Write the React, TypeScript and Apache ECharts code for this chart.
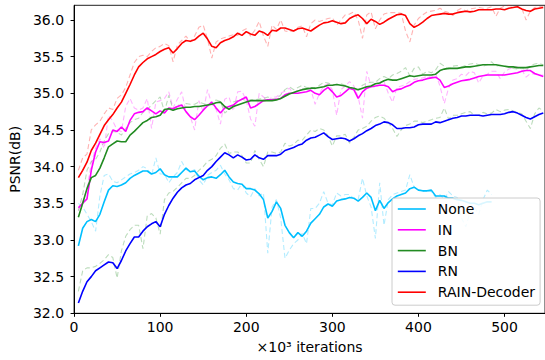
import React, { useEffect, useRef } from "react";
import * as echarts from "echarts";

// x positions (×10^3 iterations)
const ITERATIONS = [
  5, 10, 15, 20, 25, 30, 35, 40, 45, 50,
  55, 60, 65, 70, 75, 80, 85, 90, 95, 100,
  105, 110, 115, 120, 125, 130, 135, 140, 145, 150,
  155, 160, 165, 170, 175, 180, 185, 190, 195, 200,
  205, 210, 215, 220, 225, 230, 235, 240, 245, 250,
  255, 260, 265, 270, 275, 280, 285, 290, 295, 300,
  305, 310, 315, 320, 325, 330, 335, 340, 345, 350,
  355, 360, 365, 370, 375, 380, 385, 390, 395, 400,
  405, 410, 415, 420, 425, 430, 435, 440, 445, 450,
  455, 460, 465, 470, 475, 480, 485, 490, 495, 500,
  505, 510, 515, 520, 525, 530, 535, 540, 545,
];

const X_TICKS = [0, 100, 200, 300, 400, 500];
const Y_TICKS = [32.0, 32.5, 33.0, 33.5, 34.0, 34.5, 35.0, 35.5, 36.0];
const SERIES_NAMES = ["None", "IN", "BN", "RN", "RAIN-Decoder"];

// smoothed curves (solid)
const NONE_SMOOTH = [
  32.92, 33.16, 33.25, 33.28, 33.25, 33.35, 33.52, 33.68, 33.74, 33.73,
  33.75, 33.78, 33.84, 33.88, 33.91, 33.94, 33.94, 33.90, 33.92, 33.97,
  33.89, 33.86, 33.86, 33.86, 33.92, 33.98, 33.93, 33.94, 33.87, 33.82,
  33.85, 33.86, 33.84, 33.89, 33.95, 33.86, 33.79, 33.77, 33.76, 33.70,
  33.70, 33.68, 33.63, 33.55, 33.30, 33.39, 33.52, 33.43, 33.20, 33.10,
  33.03, 33.10, 33.05, 33.12, 33.23, 33.29, 33.35, 33.45, 33.49, 33.46,
  33.53, 33.55, 33.56, 33.58, 33.57, 33.53, 33.58, 33.64, 33.58, 33.40,
  33.54, 33.43, 33.51, 33.56, 33.60, 33.62, 33.64, 33.70, 33.72, 33.68,
  33.67, 33.67, 33.68, 33.60, 33.60, 33.60, 33.57, 33.57, 33.55, 33.54,
  33.52, 33.50, 33.50, 33.48, 33.50, 33.52, 33.52,
];
const IN_SMOOTH = [
  33.44, 33.50, 33.56, 33.95, 34.20, 34.34, 34.33, 34.35, 34.50, 34.48,
  34.54, 34.48, 34.63, 34.72, 34.74, 34.75, 34.80, 34.76, 34.72, 34.76,
  34.73, 34.80, 34.79, 34.82, 34.84, 34.75, 34.68, 34.64, 34.70, 34.77,
  34.83, 34.88, 34.80, 34.73, 34.80, 34.82, 34.84, 34.89, 34.92, 34.95,
  34.80, 34.82, 34.86, 34.90, 34.91, 34.91, 34.92, 34.93, 34.98, 35.00,
  35.00, 35.00, 35.01, 35.02, 35.04, 35.00, 34.98, 35.04, 35.08, 35.02,
  34.95, 34.97, 35.02, 35.07, 35.05, 34.93, 35.02, 35.07, 35.09, 35.10,
  35.11, 35.11, 35.09, 35.02, 35.05, 35.06, 35.09, 35.11, 35.15, 35.17,
  35.18, 35.20, 35.21, 35.22, 35.18, 35.08, 35.10, 35.13, 35.15, 35.17,
  35.18, 35.19, 35.21, 35.23, 35.24, 35.25, 35.25, 35.25, 35.25, 35.25,
  35.26, 35.27, 35.28, 35.30, 35.31, 35.31, 35.27, 35.25, 35.23,
];
const BN_SMOOTH = [
  33.31, 33.50, 33.70, 33.85, 33.88, 33.98, 34.12, 34.27, 34.31, 34.35,
  34.34, 34.34, 34.43, 34.48, 34.54, 34.60, 34.63, 34.67, 34.68, 34.70,
  34.78, 34.79, 34.77, 34.79, 34.80, 34.81, 34.81, 34.82, 34.82, 34.83,
  34.84, 34.85, 34.87, 34.88, 34.82, 34.78, 34.82, 34.84, 34.86, 34.88,
  34.90, 34.90, 34.90, 34.90, 34.90, 34.90, 34.91, 34.93, 34.96, 34.99,
  35.01, 35.03, 35.05, 35.06, 35.07, 35.07, 35.08, 35.09, 35.11, 35.11,
  35.12, 35.11, 35.10, 35.08, 35.07, 35.05, 35.07, 35.09, 35.10, 35.13,
  35.14, 35.17, 35.19, 35.18, 35.18, 35.20, 35.22, 35.24, 35.23, 35.24,
  35.25, 35.25, 35.25, 35.26, 35.31, 35.33, 35.34, 35.34, 35.34, 35.35,
  35.36, 35.36, 35.37, 35.38, 35.39, 35.39, 35.39, 35.39, 35.38, 35.37,
  35.36, 35.36, 35.35, 35.35, 35.35, 35.36, 35.37, 35.38, 35.38,
];
const RN_SMOOTH = [
  32.14, 32.30, 32.43, 32.50, 32.58, 32.62, 32.66, 32.70, 32.69, 32.61,
  32.72, 32.85, 32.95, 33.04, 33.04, 33.12, 33.18, 33.22, 33.25, 33.18,
  33.35, 33.47, 33.57, 33.65, 33.71, 33.75, 33.77, 33.82, 33.85, 33.88,
  33.95, 34.00, 34.07, 34.13, 34.19, 34.16, 34.12, 34.16, 34.13, 34.09,
  34.10, 34.16, 34.12, 34.10, 34.15, 34.15, 34.15, 34.17, 34.22, 34.24,
  34.26, 34.29, 34.31, 34.36, 34.39, 34.40, 34.43, 34.46, 34.41, 34.37,
  34.38, 34.39, 34.38, 34.35, 34.38, 34.42, 34.45, 34.49, 34.52, 34.56,
  34.58, 34.61, 34.60, 34.57, 34.52, 34.52, 34.53, 34.53, 34.54, 34.57,
  34.58, 34.58, 34.58, 34.61, 34.60, 34.62, 34.64, 34.66, 34.67, 34.69,
  34.69, 34.70, 34.70, 34.70, 34.69, 34.70, 34.71, 34.71, 34.71, 34.72,
  34.74, 34.75, 34.73, 34.70, 34.67, 34.65, 34.68, 34.71, 34.73,
];
const RAIN_SMOOTH = [
  33.85, 33.95, 34.06, 34.22, 34.32, 34.44, 34.56, 34.64, 34.71, 34.80,
  34.88, 35.00, 35.12, 35.25, 35.36, 35.42, 35.47, 35.50, 35.53, 35.57,
  35.60, 35.62, 35.55, 35.61, 35.68, 35.72, 35.71, 35.73, 35.78, 35.82,
  35.74, 35.64, 35.62, 35.69, 35.72, 35.74, 35.77, 35.82, 35.79, 35.84,
  35.81, 35.79, 35.85, 35.83, 35.79, 35.86, 35.85, 35.89, 35.89, 35.87,
  35.85, 35.88, 35.89, 35.87, 35.85, 35.89, 35.93, 35.96, 35.97, 35.99,
  35.97, 35.95, 35.96, 36.02, 36.05, 36.07, 36.02, 35.95, 36.01, 35.98,
  35.94, 35.97, 36.01, 36.04, 36.07, 36.08, 36.06, 35.95, 35.90, 35.93,
  35.97, 36.02, 36.06, 36.07, 36.08, 36.09, 36.08, 36.08, 36.10, 36.11,
  36.12, 36.11, 36.12, 36.14, 36.14, 36.14, 36.14, 36.15, 36.15, 36.14,
  36.16, 36.17, 36.18, 36.15, 36.13, 36.12, 36.15, 36.16, 36.17,
];

// raw curves (faint dashed)
const NONE_RAW = [
  33.50, 33.45, 33.35, 33.25, 33.12, 33.60, 33.88, 33.90, 33.80, 33.78,
  33.82, 33.86, 33.90, 33.92, 33.95, 34.00, 33.97, 33.88, 34.12, 33.90,
  33.90, 33.78, 33.86, 33.92, 34.07, 33.96, 33.93, 33.96, 33.82, 33.75,
  33.88, 33.92, 33.95, 34.02, 33.90, 33.82, 33.70, 33.68, 33.77, 33.64,
  33.59, 33.70, 33.60, 33.64, 32.82, 33.45, 33.55, 33.30, 32.75, 32.86,
  32.95, 33.00, 33.09, 32.95, 33.43, 33.43, 33.50, 33.66, 33.50, 33.48,
  33.64, 33.60, 33.62, 33.62, 33.56, 33.55, 33.84, 33.60, 33.45, 33.02,
  33.78, 33.20, 33.55, 33.62, 33.64, 33.66, 33.68, 33.89, 33.72, 33.68,
  33.67, 33.66, 33.66, 33.58, 33.62, 33.55, 33.66, 33.60, 33.58, 33.30,
  33.18, 33.38, 33.45, 33.35, 33.55, 33.68, 33.62,
];
const IN_RAW = [
  33.40, 33.52, 33.70, 34.05, 34.25, 34.38, 34.25, 34.70, 34.62, 34.50,
  34.48, 34.82, 34.93, 34.80, 34.77, 34.80, 34.93, 34.52, 34.88, 34.90,
  34.93, 35.02, 34.80, 34.92, 35.02, 34.75, 34.68, 34.50, 34.90, 34.75,
  35.05, 34.85, 34.78, 34.58, 34.92, 34.95, 34.76, 35.02, 35.03, 34.90,
  34.65, 34.55, 35.00, 34.95, 34.90, 34.95, 34.95, 35.00, 35.03, 35.07,
  35.00, 35.05, 35.05, 35.07, 35.05, 34.85, 35.00, 35.10, 35.13, 35.05,
  34.70, 35.05, 35.10, 35.16, 35.10, 34.95, 34.66, 35.30, 35.10, 35.08,
  35.13, 35.16, 35.00, 34.88, 35.08, 35.10, 35.12, 35.16, 35.19, 35.20,
  35.21, 35.23, 35.22, 35.27, 35.10, 34.86, 35.07, 35.18, 35.20, 35.26,
  35.24, 35.30, 35.28, 35.14, 35.24, 35.26, 35.30, 35.30, 35.20, 35.29,
  35.33, 35.35, 35.36, 35.32, 35.22, 35.27, 35.26, 35.25, 35.25,
];
const BN_RAW = [
  33.40, 33.62, 33.95, 34.07, 34.10, 34.20, 34.35, 34.45, 34.48, 34.47,
  34.43, 34.52, 34.60, 34.64, 34.66, 34.74, 34.78, 34.84, 34.90, 34.95,
  34.75, 34.97, 34.78, 34.84, 34.83, 34.86, 34.85, 34.85, 34.88, 34.86,
  34.84, 34.87, 34.91, 34.89, 34.73, 34.78, 34.88, 34.90, 34.92, 34.90,
  34.91, 34.91, 34.92, 34.93, 34.95, 34.92, 34.92, 34.98, 35.05, 35.09,
  35.05, 35.08, 35.11, 35.08, 35.08, 35.06, 35.11, 35.15, 35.14, 35.12,
  35.12, 35.13, 35.11, 35.07, 35.04, 35.05, 35.11, 35.14, 35.15, 35.15,
  35.20, 35.23, 35.20, 35.25, 35.27, 35.30, 35.35, 35.24, 35.34, 35.36,
  35.26, 35.30, 35.28, 35.32, 35.41, 35.37, 35.33, 35.37, 35.38, 35.36,
  35.38, 35.40, 35.41, 35.39, 35.37, 35.39, 35.43, 35.37, 35.38, 35.37,
  35.36, 35.34, 35.33, 35.35, 35.31, 35.38, 35.40, 35.41, 35.39,
];
const RN_RAW = [
  32.30, 32.58, 32.62, 32.62, 32.64, 32.68, 32.73, 32.80, 32.76, 32.48,
  32.85, 33.05, 33.14, 33.20, 33.20, 32.88, 33.33, 33.36, 33.30, 33.08,
  33.55, 33.64, 33.66, 33.72, 33.78, 33.84, 33.84, 33.88, 33.95, 34.00,
  34.07, 34.10, 34.15, 34.25, 34.31, 34.18, 34.20, 34.20, 34.15, 34.05,
  34.05, 34.22, 34.10, 34.00, 34.20, 34.20, 34.18, 34.20, 34.32, 34.28,
  34.30, 34.36, 34.36, 34.43, 34.50, 34.48, 34.52, 34.50, 34.42, 34.28,
  34.42, 34.42, 34.44, 34.32, 34.40, 34.50, 34.52, 34.55, 34.62, 34.67,
  34.69, 34.66, 34.60, 34.52, 34.41, 34.50, 34.56, 34.58, 34.62, 34.62,
  34.60, 34.62, 34.64, 34.66, 34.67, 34.80, 34.65, 34.70, 34.70, 34.72,
  34.74, 34.75, 34.70, 34.70, 34.74, 34.72, 34.73, 34.78, 34.75, 34.77,
  34.78, 34.76, 34.74, 34.72, 34.62, 34.52, 34.72, 34.80, 34.76,
];
const RAIN_RAW = [
  33.95, 34.12, 34.17, 34.50, 34.57, 34.62, 34.72, 34.80, 34.78, 34.93,
  34.98, 35.08, 35.25, 35.42, 35.50, 35.52, 35.50, 35.57, 35.62, 35.64,
  35.68, 35.65, 35.43, 35.66, 35.72, 35.78, 35.70, 35.78, 35.90, 35.93,
  35.74, 35.48, 35.70, 35.74, 35.76, 35.78, 35.80, 35.79, 35.85, 35.88,
  35.78, 35.86, 35.98, 35.78, 35.64, 35.93, 35.87, 36.00, 35.85, 35.84,
  35.85, 35.90, 35.92, 35.77, 35.95, 36.00, 35.98, 36.00, 36.02, 36.03,
  35.93, 36.00, 36.07, 36.08, 36.11, 36.00, 35.75, 36.07, 36.11, 35.88,
  36.00, 36.08, 36.10, 36.10, 36.10, 36.09, 35.85, 35.70, 35.93, 36.02,
  36.07, 36.11, 36.12, 36.13, 36.16, 36.12, 36.10, 36.06, 36.13, 36.16,
  36.12, 36.15, 36.16, 36.17, 36.16, 36.16, 36.18, 36.05, 36.16, 36.19,
  36.20, 36.18, 36.18, 36.16, 36.00, 36.12, 36.17, 36.18, 36.19,
];

const FONT = "'DejaVu Sans', sans-serif";

const pair = (vals: number[]) => vals.map((v, i) => [ITERATIONS[i], v]);

export default function App() {
  const ref = useRef<HTMLDivElement>(null);
  useEffect(() => {
    document.body.style.margin = "0";
    document.body.style.overflow = "hidden";
    if (!ref.current) return;
    const chart = echarts.init(ref.current, null, { renderer: "svg" });

    const raw = (name: string, vals: number[], color: string) => ({
      name,
      type: "line",
      data: pair(vals),
      symbol: "none",
      z: 1,
      lineStyle: { color, width: 1.1, type: [5, 3] },
      itemStyle: { color },
      silent: true,
    });
    const smooth = (name: string, vals: number[], color: string) => ({
      name,
      type: "line",
      data: pair(vals),
      symbol: "none",
      z: 3,
      lineStyle: { color, width: 1.6 },
      itemStyle: { color },
    });

    chart.setOption({
      animation: false,
      textStyle: { fontFamily: FONT },
      grid: {
        left: 73.3,
        top: 5.3,
        right: -2,
        bottom: 46.7,
        show: true,
        borderColor: "#222",
        borderWidth: 1,
        backgroundColor: "transparent",
      },
      xAxis: {
        type: "value",
        min: 0,
        max: 547,
        name: "×10³ iterations",
        nameLocation: "middle",
        nameGap: 27,
        nameTextStyle: { fontSize: 14, color: "#000", fontFamily: FONT },
        axisLine: { show: true, lineStyle: { color: "#000", width: 1 } },
        axisTick: { show: true, length: 3.5, customValues: X_TICKS, lineStyle: { color: "#000" } },
        axisLabel: {
          customValues: X_TICKS,
          fontSize: 14,
          color: "#000",
          margin: 7,
          fontFamily: FONT,
        },
        splitLine: { show: false },
      },
      yAxis: {
        type: "value",
        min: 32,
        max: 36.2,
        name: "PSNR(dB)",
        nameLocation: "middle",
        nameGap: 44,
        nameRotate: 90,
        nameTextStyle: { fontSize: 14, color: "#000", fontFamily: FONT },
        axisLine: { show: true, lineStyle: { color: "#000", width: 1 } },
        axisTick: { show: true, length: 3.5, customValues: Y_TICKS, lineStyle: { color: "#000" } },
        axisLabel: {
          customValues: Y_TICKS,
          formatter: (v: number) => v.toFixed(1),
          fontSize: 14,
          color: "#000",
          margin: 10,
          fontFamily: FONT,
        },
        splitLine: { show: false },
      },
      legend: {
        data: SERIES_NAMES,
        orient: "vertical",
        left: 392,
        top: 198,
        itemWidth: 28,
        itemHeight: 14,
        itemGap: 6.8,
        padding: [4, 5, 6, 5],
        backgroundColor: "rgba(255,255,255,0.85)",
        borderColor: "#cccccc",
        borderWidth: 1,
        borderRadius: 3,
        itemStyle: { opacity: 0 },
        lineStyle: { width: 1.6 },
        textStyle: { fontSize: 14, color: "#000", fontFamily: FONT, padding: [0, 0, 0, 7] },
        z: 10,
      },
      series: [
        raw("None raw", NONE_RAW, "rgba(0,191,255,0.3)"),
        raw("IN raw", IN_RAW, "rgba(255,0,255,0.3)"),
        raw("BN raw", BN_RAW, "rgba(34,139,34,0.3)"),
        raw("RN raw", RN_RAW, "rgba(34,139,34,0.3)"),
        raw("RAIN raw", RAIN_RAW, "rgba(255,0,0,0.3)"),
        smooth(SERIES_NAMES[0], NONE_SMOOTH, "#00BFFF"),
        smooth(SERIES_NAMES[1], IN_SMOOTH, "#FF00FF"),
        smooth(SERIES_NAMES[2], BN_SMOOTH, "#228B22"),
        smooth(SERIES_NAMES[3], RN_SMOOTH, "#0000FF"),
        smooth(SERIES_NAMES[4], RAIN_SMOOTH, "#FF0000"),
      ],
    });
    return () => chart.dispose();
  }, []);
  return <div ref={ref} style={{ width: 545, height: 360 }} />;
}
